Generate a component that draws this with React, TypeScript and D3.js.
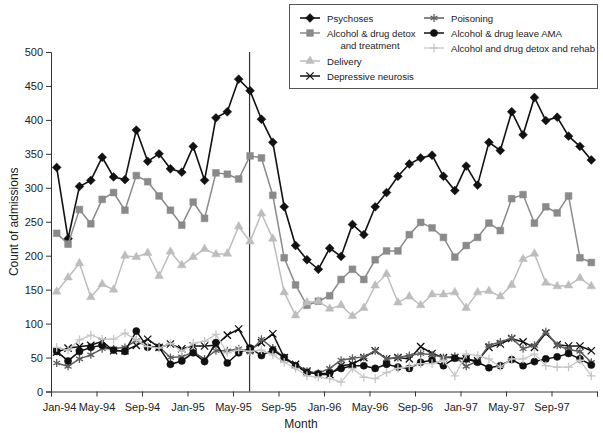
import React, { useRef, useEffect } from 'react';
import * as d3 from 'd3';

// monthly admissions, Jan-94 .. Dec-97
const tickLabels = ['Jan-94', 'May-94', 'Sep-94', 'Jan-95', 'May-95', 'Sep-95', 'Jan-96', 'May-96', 'Sep-96', 'Jan-97', 'May-97', 'Sep-97'];

const psychoses = [330, 225, 302, 311, 345, 316, 312, 385, 339, 350, 328, 323, 361, 311, 403, 412, 460, 443, 401, 367, 272, 215, 194, 180, 211, 199, 246, 231, 272, 293, 317, 335, 344, 348, 317, 296, 332, 304, 367, 355, 412, 378, 433, 399, 404, 376, 361, 341];
const detoxTreatment = [233, 217, 268, 247, 283, 293, 267, 318, 309, 288, 267, 245, 279, 255, 322, 320, 313, 347, 344, 289, 197, 157, 127, 133, 141, 165, 180, 165, 194, 207, 207, 231, 249, 241, 227, 198, 215, 227, 248, 237, 284, 290, 248, 272, 263, 288, 197, 190];
const delivery = [147, 168, 189, 139, 158, 150, 200, 198, 204, 170, 206, 186, 198, 210, 202, 203, 243, 221, 262, 225, 146, 112, 131, 133, 122, 127, 111, 123, 156, 173, 131, 140, 127, 143, 143, 146, 123, 146, 148, 140, 157, 195, 203, 160, 155, 156, 167, 155];
const depressive = [58, 64, 66, 68, 74, 60, 60, 68, 77, 65, 70, 63, 67, 67, 68, 83, 92, 62, 72, 85, 50, 40, 30, 25, 25, 38, 40, 50, 60, 48, 50, 48, 66, 56, 50, 50, 48, 45, 65, 70, 78, 73, 65, 86, 69, 67, 67, 60];
const poisoning = [42, 37, 48, 54, 63, 63, 65, 75, 66, 66, 50, 51, 58, 48, 60, 60, 63, 58, 77, 64, 50, 38, 30, 27, 34, 46, 49, 51, 60, 48, 50, 53, 56, 54, 50, 52, 37, 45, 68, 73, 79, 63, 68, 88, 68, 62, 59, 43];
const leaveAMA = [59, 45, 59, 65, 68, 61, 59, 89, 65, 65, 40, 45, 57, 44, 72, 42, 57, 64, 53, 61, 50, 38, 28, 26, 27, 34, 38, 38, 34, 40, 36, 34, 43, 46, 38, 49, 48, 43, 35, 38, 47, 38, 44, 48, 51, 56, 48, 39];
const detoxRehab = [65, 61, 76, 83, 77, 77, 86, 76, 66, 64, 71, 59, 71, 74, 84, 57, 61, 59, 61, 54, 43, 34, 23, 21, 19, 14, 34, 21, 19, 28, 34, 37, 41, 41, 46, 23, 55, 53, 48, 36, 48, 48, 55, 38, 36, 36, 46, 23];

const FONT = '"Liberation Sans", Arial, Helvetica, sans-serif';

function AdmissionsChart() {
  const svgRef = useRef<SVGSVGElement>(null);

  useEffect(() => {
    const svg = d3.select(svgRef.current);
    svg.selectAll('*').remove();

    const nMonths = psychoses.length;
    const x = d3.scaleLinear().domain([0, nMonths]).range([51, 597]);
    const y = d3.scaleLinear().domain([0, 500]).range([391.5, 52]);
    const xc = (i: number) => x(i + 0.5);

    const series = [
      { name: 'Psychoses', values: psychoses, color: '#111', marker: d3.symbolDiamond2, size: 50, fill: true, width: 1.6 },
      { name: 'Alcohol & drug detox and treatment', values: detoxTreatment, color: '#8a8a8a', marker: d3.symbolSquare, size: 46, fill: true, width: 1.5 },
      { name: 'Delivery', values: delivery, color: '#bdbdbd', marker: d3.symbolTriangle, size: 32, fill: true, width: 1.5 },
      { name: 'Depressive neurosis', values: depressive, color: '#111', marker: d3.symbolTimes, size: 36, fill: false, width: 1.5 },
      { name: 'Poisoning', values: poisoning, color: '#5e5e5e', marker: d3.symbolAsterisk, size: 44, fill: false, width: 1.5 },
      { name: 'Alcohol & drug leave AMA', values: leaveAMA, color: '#111', marker: d3.symbolCircle, size: 40, fill: true, width: 1.5 },
      { name: 'Alcohol and drug detox and rehab', values: detoxRehab, color: '#c6c6c6', marker: d3.symbolPlus, size: 26, fill: false, width: 1.3 },
    ];

    // axes
    const yAxis = d3.axisLeft(y).tickValues(d3.range(0, 501, 50)).tickSize(5).tickPadding(3);
    const gy = svg.append('g').attr('transform', `translate(${x(0)},0)`).call(yAxis);
    const xAxis = d3.axisBottom(x)
      .tickValues(d3.range(0, nMonths + 1, 4))
      .tickSize(5)
      .tickPadding(7)
      .tickFormat((d, i) => tickLabels[i] ?? '');
    const gx = svg.append('g').attr('transform', `translate(0,${y(0)})`).call(xAxis);
    gx.selectAll('text').filter((d, i) => i === 0).attr('dx', 8);

    [gx, gy].forEach(g => {
      g.select('.domain').attr('stroke', '#333');
      g.selectAll('line').attr('stroke', '#333');
      g.selectAll('text').attr('fill', '#222').style('font-family', FONT).style('font-size', '11px');
    });

    svg.append('text')
      .attr('x', 301).attr('y', 428)
      .attr('text-anchor', 'middle')
      .style('font-family', FONT).style('font-size', '12px').attr('fill', '#222')
      .text('Month');
    svg.append('text')
      .attr('transform', `translate(18,${(y(0) + y(500)) / 2}) rotate(-90)`)
      .attr('text-anchor', 'middle')
      .style('font-family', FONT).style('font-size', '12px').attr('fill', '#222')
      .text('Count of admissions');

    // intervention line at Jun-95
    svg.append('line')
      .attr('x1', xc(17) - 0.5).attr('x2', xc(17) - 0.5)
      .attr('y1', y(500)).attr('y2', y(0))
      .attr('stroke', '#333').attr('stroke-width', 1.2);

    const lineGen = d3.line<number>().x((d, i) => xc(i)).y(d => y(d));

    series.forEach(s => {
      const g = svg.append('g');
      g.append('path')
        .attr('d', lineGen(s.values))
        .attr('fill', 'none')
        .attr('stroke', s.color)
        .attr('stroke-width', s.width);
      g.selectAll('path.pt')
        .data(s.values)
        .join('path')
        .attr('class', 'pt')
        .attr('transform', (d, i) => `translate(${xc(i)},${y(d)})`)
        .attr('d', d3.symbol(s.marker, s.size)())
        .attr('fill', s.fill ? s.color : 'none')
        .attr('stroke', s.color)
        .attr('stroke-width', s.fill ? 0.5 : 1.3);
    });

    // legend
    const legend = svg.append('g');
    legend.append('rect')
      .attr('x', 289.5).attr('y', 4.5).attr('width', 308).attr('height', 84)
      .attr('fill', '#fff').attr('stroke', '#555').attr('stroke-width', 1);

    const slots = [
      { col: 0, y: 18 }, { col: 0, y: 33 }, { col: 0, y: 61 }, { col: 0, y: 76 },
      { col: 1, y: 18 }, { col: 1, y: 33 }, { col: 1, y: 48 },
    ];
    const colX = [300, 424];
    const legendFont = '9.6px';
    series.forEach((s, k) => {
      const slot = slots[k];
      const x0 = colX[slot.col];
      const row = legend.append('g');
      row.append('line')
        .attr('x1', x0).attr('x2', x0 + 20).attr('y1', slot.y).attr('y2', slot.y)
        .attr('stroke', s.color).attr('stroke-width', s.width);
      row.append('path')
        .attr('transform', `translate(${x0 + 10},${slot.y})`)
        .attr('d', d3.symbol(s.marker, s.size)())
        .attr('fill', s.fill ? s.color : 'none')
        .attr('stroke', s.color)
        .attr('stroke-width', s.fill ? 0.5 : 1.3);
      const txt = row.append('text')
        .attr('x', x0 + 27).attr('y', slot.y + 3.5)
        .style('font-family', FONT).style('font-size', legendFont).attr('fill', '#222');
      if (k === 1) {
        txt.text('Alcohol & drug detox');
        row.append('text')
          .attr('x', x0 + 70).attr('y', slot.y + 15.5)
          .attr('text-anchor', 'middle')
          .style('font-family', FONT).style('font-size', legendFont).attr('fill', '#222')
          .text('and treatment');
      } else {
        txt.text(s.name);
      }
    });
  }, []);

  return (
    <svg ref={svgRef} width={603} height={433}
      style={{ position: 'absolute', left: 0, top: 0, background: '#fff' }} />
  );
}

export default function App() {
  return <AdmissionsChart />;
}
